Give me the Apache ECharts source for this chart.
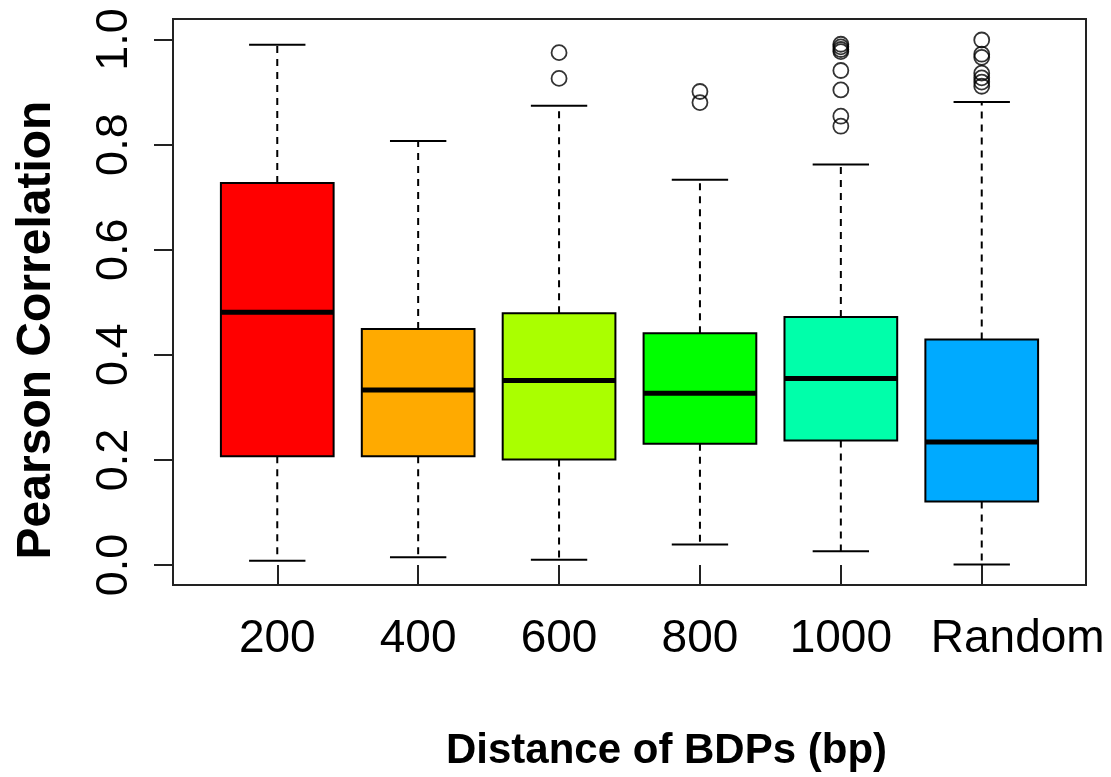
<!DOCTYPE html>
<html>
<head>
<meta charset="utf-8">
<script src="https://cdn.jsdelivr.net/npm/echarts@6/dist/echarts.min.js"></script>
<style>
  html, body { margin: 0; padding: 0; background: #fff; }
  #main { width: 1111px; height: 777px; }
</style>
</head>
<body>
<div id="main"></div>
<script>
var categories = ['200', '400', '600', '800', '1000', 'Random'];
var boxColors = ['#FF0000', '#FFAA00', '#AAFF00', '#00FF00', '#00FFAA', '#00AAFF'];
var lowerWhisker = [0.008, 0.015, 0.010, 0.039, 0.026, 0.001];
var q1 = [0.207, 0.207, 0.201, 0.231, 0.237, 0.121];
var median = [0.481, 0.333, 0.351, 0.327, 0.355, 0.234];
var q3 = [0.727, 0.449, 0.479, 0.441, 0.472, 0.429];
var upperWhisker = [0.990, 0.807, 0.874, 0.733, 0.762, 0.881];
var outliers = [
    [],
    [],
    [0.975, 0.926],
    [0.901, 0.880],
    [0.991, 0.986, 0.981, 0.977, 0.941, 0.904, 0.854, 0.835],
    [0.999, 0.972, 0.966, 0.936, 0.927, 0.919, 0.911]
];
var yTicks = [0, 0.2, 0.4, 0.6, 0.8, 1.0];

var font = 'Liberation Sans, Arial, Helvetica, sans-serif';

function init() {
    var myChart = echarts.init(document.getElementById('main'));

    // one row per box: [x, min, q1, median, q3, max]
    var boxData = categories.map(function (c, i) {
        return [i + 1, lowerWhisker[i], q1[i], median[i], q3[i], upperWhisker[i]];
    });
    var outlierData = [];
    outliers.forEach(function (list, i) {
        list.forEach(function (v) { outlierData.push([i + 1, v]); });
    });

    function renderBox(params, api) {
        var x = api.value(0);
        var lo = api.coord([x, api.value(1)]);
        var b1 = api.coord([x, api.value(2)]);
        var md = api.coord([x, api.value(3)]);
        var b3 = api.coord([x, api.value(4)]);
        var hi = api.coord([x, api.value(5)]);
        var half = api.size([0.8, 0])[0] / 2;
        var cap = api.size([0.4, 0])[0] / 2;
        var cx = lo[0];
        var dash = { stroke: '#000', lineWidth: 2, lineDash: [7, 6] };
        var solid = { stroke: '#000', lineWidth: 2 };
        return {
            type: 'group',
            children: [
                { type: 'line', shape: { x1: cx, y1: b3[1], x2: cx, y2: hi[1] }, style: dash },
                { type: 'line', shape: { x1: cx, y1: b1[1], x2: cx, y2: lo[1] }, style: dash },
                { type: 'line', shape: { x1: cx - cap, y1: hi[1], x2: cx + cap, y2: hi[1] }, style: solid },
                { type: 'line', shape: { x1: cx - cap, y1: lo[1], x2: cx + cap, y2: lo[1] }, style: solid },
                { type: 'rect', shape: { x: cx - half, y: b3[1], width: half * 2, height: b1[1] - b3[1] },
                  style: { fill: boxColors[params.dataIndex], stroke: '#000', lineWidth: 2 } },
                { type: 'line', shape: { x1: cx - half, y1: md[1], x2: cx + half, y2: md[1] },
                  style: { stroke: '#000', lineWidth: 5 } }
            ]
        };
    }

    var option = {
        backgroundColor: '#fff',
        animation: false,
        grid: {
            left: 173, right: 25, top: 19, bottom: 191,
            show: true, borderColor: '#222', borderWidth: 2
        },
        xAxis: {
            type: 'value',
            min: 0.26,
            max: 6.74,
            splitLine: { show: false },
            axisLine: { show: false },
            axisTick: { show: true, length: 19, customValues: [1, 2, 3, 4, 5, 6],
                        lineStyle: { color: '#222', width: 2 } },
            axisLabel: {
                customValues: [1, 2, 3, 4, 5, 6],
                formatter: function (v) {
                    var i = Math.round(v) - 1;
                    return i === 5 ? '{r|' + categories[i] + '}' : categories[i];
                },
                rich: { r: { fontSize: 46, fontFamily: font, color: '#000', padding: [0, 0, 0, 72] } },
                fontSize: 46, fontFamily: font, color: '#000', margin: 31
            },
            name: 'Distance of BDPs (bp)',
            nameLocation: 'middle',
            nameGap: 145,
            nameTextStyle: { fontSize: 42, fontWeight: 'bold', fontFamily: font, color: '#000',
                             padding: [0, 0, 0, 74] }
        },
        yAxis: {
            type: 'value',
            min: -0.038,
            max: 1.039,
            splitLine: { show: false },
            axisLine: { show: false },
            axisTick: { show: true, length: 19, customValues: yTicks,
                        lineStyle: { color: '#222', width: 2 } },
            axisLabel: {
                customValues: yTicks,
                rotate: 90,
                formatter: function (v) { return v.toFixed(1); },
                fontSize: 45, fontFamily: font, color: '#000', margin: 36
            },
            name: 'Pearson Correlation',
            nameLocation: 'middle',
            nameRotate: 90,
            nameGap: 112,
            nameTextStyle: { fontSize: 48, fontWeight: 'bold', fontFamily: font, color: '#000',
                             padding: [0, 56, 0, 0] }
        },
        series: [{
            type: 'custom',
            renderItem: renderBox,
            encode: { x: 0, y: [1, 2, 3, 4, 5] },
            data: boxData
        }, {
            type: 'scatter',
            symbol: 'circle',
            symbolSize: 15,
            itemStyle: { color: 'rgba(0,0,0,0)', borderColor: '#000', borderWidth: 1.8 },
            data: outlierData
        }]
    };
    myChart.setOption(option);
}
init();
</script>
</body>
</html>
